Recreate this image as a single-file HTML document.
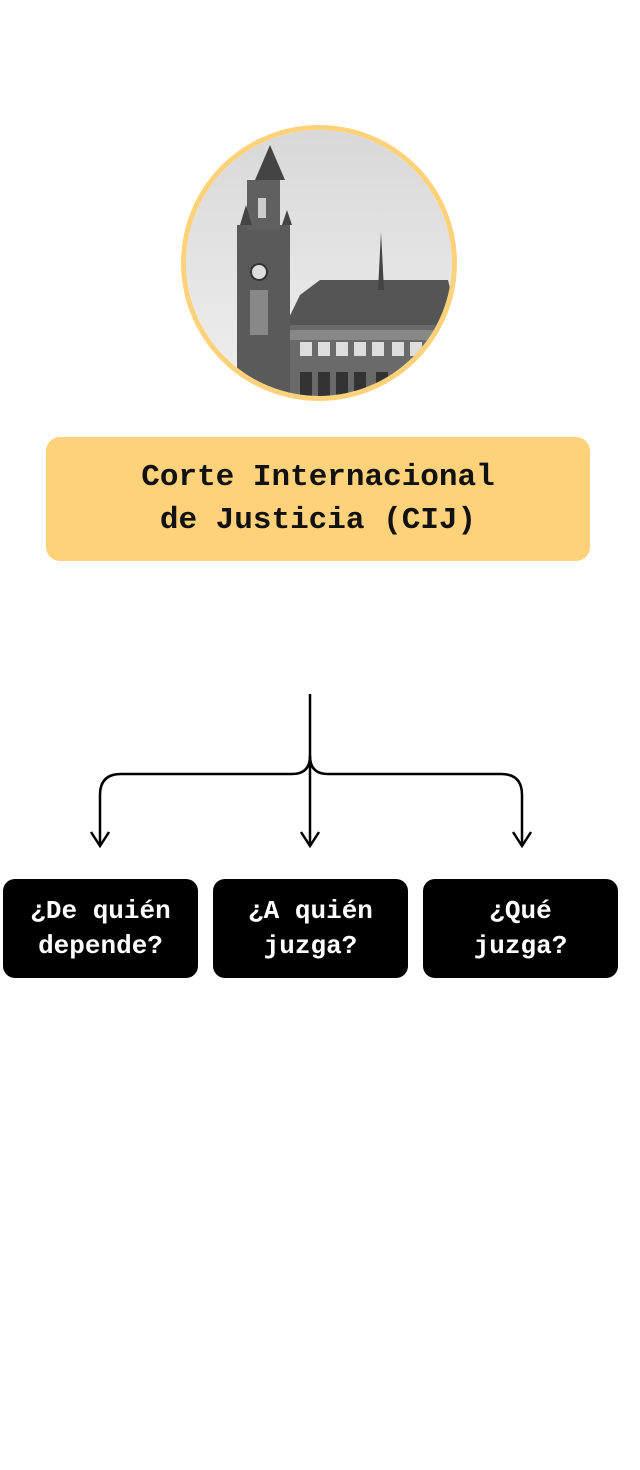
<!DOCTYPE html>
<html><head><meta charset="utf-8"><style>
body{margin:0;width:640px;height:1470px;background:#fff;position:relative;overflow:hidden;font-family:"Liberation Mono",monospace;}
.title{position:absolute;left:46px;top:437px;width:544px;height:124px;background:#FDD27A;border-radius:14px;display:flex;align-items:center;justify-content:center;text-align:center;font-weight:bold;font-size:31px;line-height:43px;color:#111;}
.b{position:absolute;top:879px;width:195px;height:99px;background:#000;border-radius:12px;color:#fff;display:flex;align-items:center;justify-content:center;text-align:center;font-weight:bold;font-size:26px;line-height:35px;}
</style></head><body>
<svg width="640" height="1470" style="position:absolute;left:0;top:0">
<defs><clipPath id="c"><circle cx="319" cy="263" r="133"/></clipPath>
<linearGradient id="s" x1="0" y1="0" x2="0" y2="1"><stop offset="0" stop-color="#d8d8d8"/><stop offset="1" stop-color="#f0f0f0"/></linearGradient></defs>
<g clip-path="url(#c)">
<rect x="180" y="125" width="280" height="280" fill="url(#s)"/>
<polygon points="283,330 300,295 320,280 448,280 460,330" fill="#555"/>
<rect x="283" y="325" width="180" height="80" fill="#6a6a6a"/>
<rect x="283" y="330" width="180" height="10" fill="#888"/>
<g fill="#ddd"><rect x="300" y="342" width="12" height="14"/><rect x="318" y="342" width="12" height="14"/><rect x="336" y="342" width="12" height="14"/><rect x="354" y="342" width="12" height="14"/><rect x="372" y="342" width="12" height="14"/><rect x="392" y="342" width="12" height="14"/><rect x="410" y="342" width="12" height="14"/></g>
<g fill="#333"><rect x="300" y="372" width="12" height="30"/><rect x="318" y="372" width="12" height="30"/><rect x="336" y="372" width="12" height="30"/><rect x="354" y="372" width="12" height="30"/><rect x="376" y="372" width="12" height="30"/></g>
<polygon points="378,290 381,232 384,290" fill="#444"/>
<rect x="237" y="225" width="53" height="180" fill="#5a5a5a"/>
<rect x="247" y="180" width="33" height="50" fill="#606060"/>
<polygon points="255,180 270,145 285,180" fill="#444"/>
<polygon points="240,225 246,205 252,225" fill="#444"/>
<polygon points="282,225 287,210 292,225" fill="#444"/>
<circle cx="259" cy="272" r="8" fill="#ddd" stroke="#333" stroke-width="2"/>
<rect x="250" y="290" width="18" height="45" fill="#888"/>
<rect x="258" y="198" width="8" height="20" fill="#ccc"/>
</g>
<circle cx="319" cy="263" r="135.5" fill="none" stroke="#FDD27A" stroke-width="5"/>
<g fill="none" stroke="#000" stroke-width="2.5">
<path d="M310 694 V845"/>
<path d="M100 845 V795 Q100 774 121 774 H292 Q310 774 310 756"/>
<path d="M522 845 V795 Q522 774 501 774 H328 Q310 774 310 756"/>
<path d="M91 832 L100 846 L109 832"/>
<path d="M301 832 L310 846 L319 832"/>
<path d="M513 832 L522 846 L531 832"/>
</g>
</svg>
<div class="title">Corte Internacional<br>de Justicia (CIJ)</div>
<div class="b" style="left:3px">¿De quién<br>depende?</div>
<div class="b" style="left:213px">¿A quién<br>juzga?</div>
<div class="b" style="left:423px">¿Qué<br>juzga?</div>
</body></html>
